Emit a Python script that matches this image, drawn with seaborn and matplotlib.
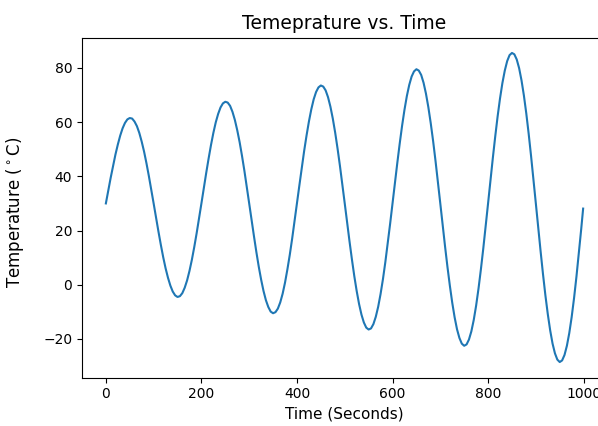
import numpy as np
import pandas as pd
import seaborn as sns
import matplotlib
matplotlib.use("Agg")
import matplotlib.pyplot as plt

# values, every 5 s (one row = 100 s)
time_s = list(range(0, 1000, 5)) + [999]
temp_c = [30.0, 34.7, 39.4, 43.8, 48.0, 51.7, 55.0, 57.7, 59.7, 61.0, 61.5, 61.3, 60.2, 58.5, 56.0, 52.8, 49.1, 44.8, 40.1, 35.1,
          30.0, 24.8, 19.7, 14.8, 10.2, 6.1, 2.6, -0.3, -2.5, -3.9, -4.5, -4.2, -3.1, -1.1, 1.6, 5.1, 9.2, 13.9, 19.0, 24.4,
          30.0, 35.7, 41.2, 46.5, 51.5, 56.0, 59.9, 63.0, 65.4, 66.9, 67.5, 67.2, 66.0, 63.8, 60.8, 57.0, 52.6, 47.5, 42.0, 36.1,
          30.0, 23.9, 17.9, 12.1, 6.7, 1.9, -2.3, -5.7, -8.2, -9.9, -10.5, -10.1, -8.8, -6.5, -3.3, 0.8, 5.7, 11.1, 17.1, 23.5,
          30.0, 36.6, 43.1, 49.3, 55.0, 60.2, 64.7, 68.4, 71.1, 72.8, 73.5, 73.1, 71.7, 69.2, 65.7, 61.3, 56.1, 50.2, 43.8, 37.0,
          30.0, 22.9, 16.0, 9.4, 3.2, -2.3, -7.1, -11.0, -13.9, -15.8, -16.5, -16.1, -14.5, -11.8, -8.1, -3.4, 2.1, 8.4, 15.3, 22.5,
          30.0, 37.5, 44.9, 52.0, 58.6, 64.5, 69.6, 73.7, 76.8, 78.7, 79.5, 79.0, 77.4, 74.5, 70.5, 65.5, 59.6, 53.0, 45.7, 38.0,
          30.0, 22.0, 14.1, 6.6, -0.3, -6.6, -12.0, -16.4, -19.6, -21.7, -22.5, -22.0, -20.2, -17.2, -13.0, -7.7, -1.4, 5.7, 13.4, 21.6,
          30.0, 38.5, 46.8, 54.7, 62.1, 68.7, 74.4, 79.0, 82.5, 84.7, 85.5, 85.0, 83.1, 79.9, 75.4, 69.8, 63.2, 55.7, 47.5, 38.9,
          30.0, 21.1, 12.3, 3.9, -3.9, -10.8, -16.8, -21.7, -25.3, -27.6, -28.5, -27.9, -25.9, -22.5, -17.8, -11.9, -4.9, 3.0, 11.6, 20.6,
          28.1]

d = pd.DataFrame({"time": time_s, "temp": temp_c})

fig = plt.figure(figsize=(5.98, 4.26), dpi=100)
# axes runs past the right edge, like the cropped reference
ax = fig.add_axes([82 / 598, 48.5 / 426, 525 / 598, 340 / 426])
sns.lineplot(data=d, x="time", y="temp", ax=ax, color="#1f77b4", linewidth=1.5)
ax.set_xticks([0, 200, 400, 600, 800, 1000])
ax.set_yticks([-20, 0, 20, 40, 60, 80])
ax.set_title("Temeprature vs. Time", fontsize=13.5)
ax.set_xlabel("Time (Seconds)", fontsize=11)
ax.set_ylabel(r"Temperature ($^\circ$C)", fontsize=12)
ax.yaxis.set_label_coords(-0.107, 0.485)
fig.savefig("out.png", dpi=100)
